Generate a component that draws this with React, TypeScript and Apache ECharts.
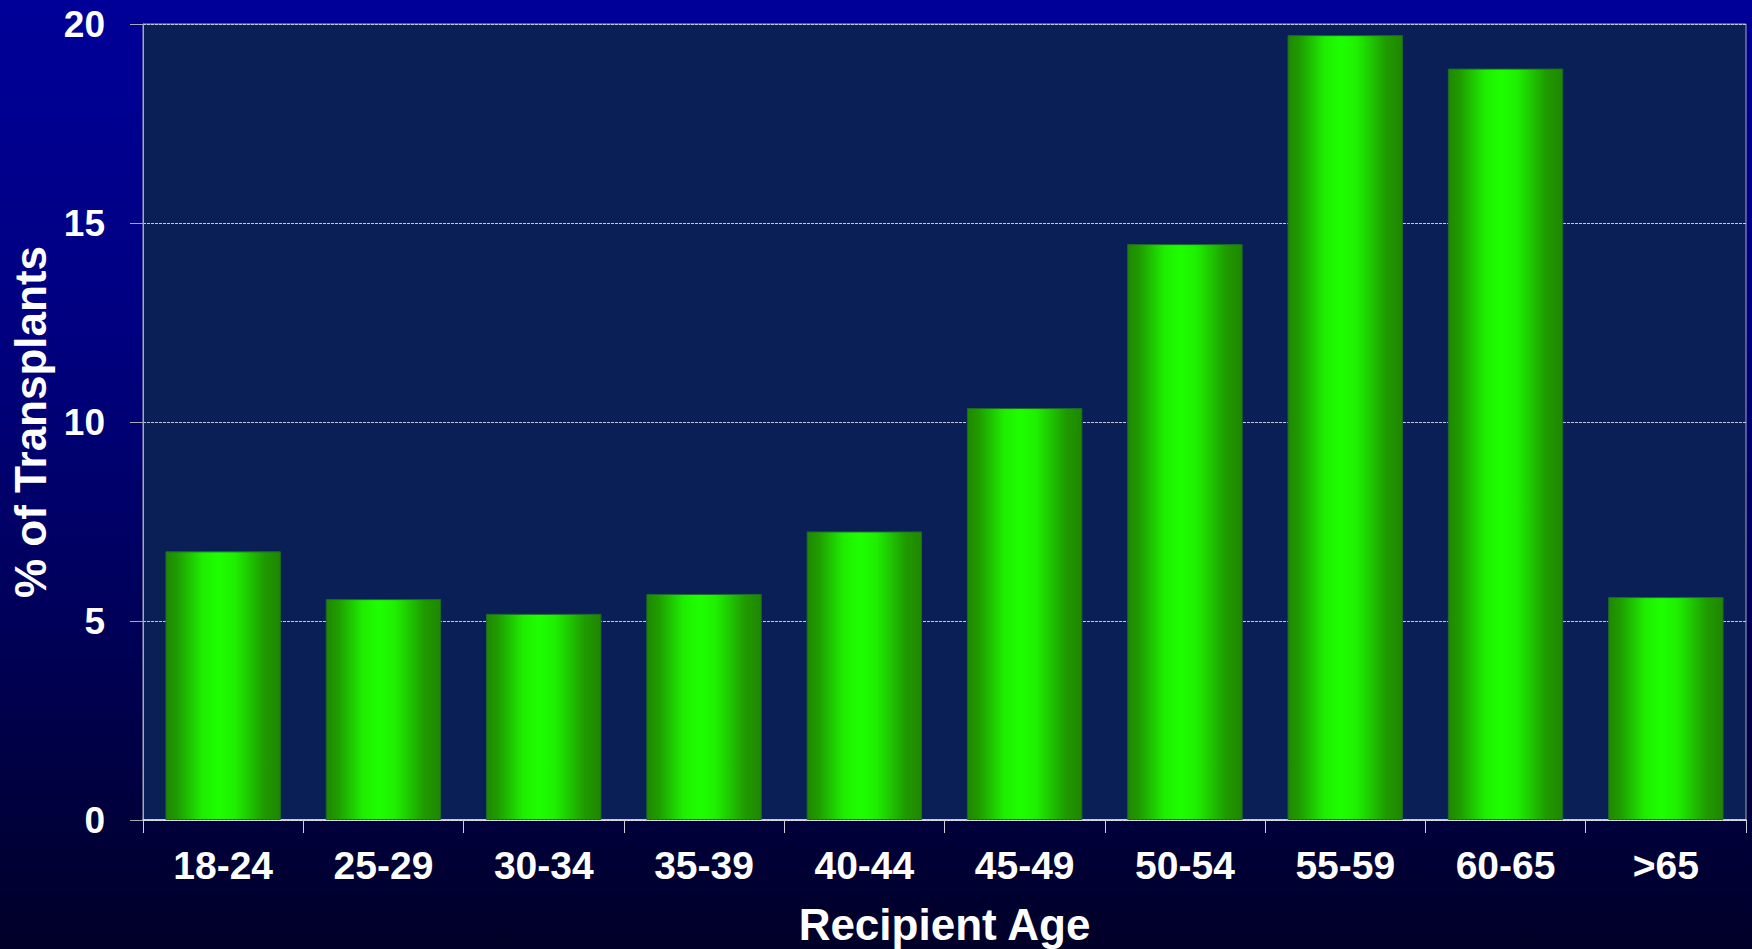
import React, { useEffect, useRef } from "react";
import * as echarts from "echarts";

// Share of transplants by recipient age band
const ageBands: string[] = ["18-24", "25-29", "30-34", "35-39", "40-44", "45-49", "50-54", "55-59", "60-65", ">65"];
const percentTransplants: number[] = [6.75, 5.55, 5.18, 5.68, 7.25, 10.35, 14.47, 19.72, 18.88, 5.6];

const yAxisTitle = "% of Transplants";
const xAxisTitle = "Recipient Age";

const FONT = "'Liberation Sans', Arial, Helvetica, sans-serif";

export default function App() {
  const ref = useRef<HTMLDivElement>(null);

  useEffect(() => {
    document.body.style.margin = "0";
    if (!ref.current) return;
    const chart = echarts.init(ref.current, undefined, { renderer: "svg" });

    // Cylinder-like shading across each bar
    const barFill = new echarts.graphic.LinearGradient(0, 0, 1, 0, [
      { offset: 0, color: "#1f8800" },
      { offset: 0.1, color: "#1f9c00" },
      { offset: 0.32, color: "#1eee00" },
      { offset: 0.46, color: "#1eff00" },
      { offset: 0.6, color: "#1ef000" },
      { offset: 0.86, color: "#1f9a00" },
      { offset: 1, color: "#1f8600" },
    ]);

    chart.setOption({
      animation: false,
      backgroundColor: "transparent",
      grid: {
        left: 143,
        right: 6,
        top: 24,
        bottom: 129,
        containLabel: false,
        outerBoundsMode: "none",
        show: true,
        backgroundColor: "#0a1f56",
        borderColor: "#a8a8b4",
        borderWidth: 1,
      },
      xAxis: {
        type: "category",
        data: ageBands,
        name: xAxisTitle,
        nameLocation: "middle",
        nameGap: 82,
        nameTextStyle: { color: "#ffffff", fontFamily: FONT, fontWeight: "bold", fontSize: 44 },
        axisLine: { show: true, lineStyle: { color: "#e8e8f0", width: 1.5 } },
        axisTick: { show: true, alignWithLabel: false, length: 13, lineStyle: { color: "#d0d0d8", width: 1 } },
        axisLabel: { color: "#ffffff", fontFamily: FONT, fontWeight: "bold", fontSize: 39, margin: 26 },
        splitLine: { show: false },
      },
      yAxis: {
        type: "value",
        min: 0,
        max: 20,
        interval: 5,
        name: yAxisTitle,
        nameLocation: "middle",
        nameGap: 88,
        nameRotate: 90,
        nameTextStyle: { color: "#ffffff", fontFamily: FONT, fontWeight: "bold", fontSize: 44 },
        axisLine: { show: true, lineStyle: { color: "#a8a8b4", width: 1 } },
        axisTick: { show: true, length: 13, lineStyle: { color: "#a8a8b4", width: 1 } },
        axisLabel: { color: "#ffffff", fontFamily: FONT, fontWeight: "bold", fontSize: 37, margin: 38 },
        splitLine: { show: true, lineStyle: { color: "#c8c8d8", width: 1, type: [3, 1] } },
      },
      series: [
        {
          type: "bar",
          data: percentTransplants,
          barWidth: "72%",
          itemStyle: { color: barFill, borderColor: "#1c6a28", borderWidth: 1 },
        },
      ],
    });

    return () => chart.dispose();
  }, []);

  return (
    <div
      ref={ref}
      style={{
        position: "absolute",
        left: 0,
        top: 0,
        width: 1752,
        height: 949,
        background: "linear-gradient(to bottom, #000099 0%, #000080 35%, #00005a 65%, #000028 100%)",
      }}
    />
  );
}
